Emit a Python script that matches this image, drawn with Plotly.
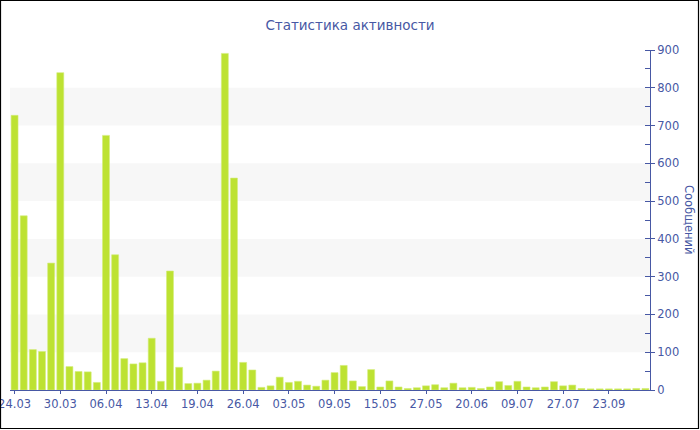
import plotly.graph_objects as go

# Data
messages = [727, 461, 107, 102, 336, 840, 62, 49, 48, 20,
            674, 358, 83, 69, 72, 137, 23, 315, 60, 17,
            18, 26, 50, 891, 561, 73, 53, 7, 11, 34,
            20, 23, 13, 10, 26, 46, 65, 24, 9, 54,
            8, 24, 8, 4, 6, 11, 14, 6, 18, 6,
            7, 4, 8, 22, 12, 23, 8, 6, 8, 22,
            11, 13, 4, 3, 3, 3, 3, 3, 4, 4]
tick_labels = ["24.03", "30.03", "06.04", "13.04", "19.04", "26.04", "03.05",
               "09.05", "15.05", "27.05", "20.06", "09.07", "27.07", "23.09"]
tick_step = 5
y_max = 900
y_step = 100

idx = list(range(len(messages)))
tick_vals = [i * tick_step for i in range(len(tick_labels))]

blue = "#4758a4"
font_family = "DejaVu Sans, Verdana, sans-serif"

fig = go.Figure()
fig.add_trace(go.Bar(
    x=idx, y=messages,
    marker=dict(color="#bde232", line=dict(color="#d3ec7a", width=0.6)),
    hoverinfo="y",
))

W, H = 700, 430
ml, mr, mt, mb = 10, 50, 50, 40
pw, ph = W - ml - mr, H - mt - mb

# alternating gray bands
shapes = []
for lo in range(y_step, y_max, 2 * y_step):
    shapes.append(dict(type="rect", xref="paper", yref="y", x0=0, x1=1,
                       y0=lo, y1=lo + y_step, fillcolor="#f7f7f7",
                       line=dict(width=0), layer="below"))
# outer border
shapes.append(dict(type="rect", xref="paper", yref="paper",
                   x0=(0.5 - ml) / pw, x1=(698.5 - ml) / pw,
                   y0=(H - 428.5 - mb) / ph, y1=(H - 0.5 - mb) / ph,
                   line=dict(color="black", width=1.2), fillcolor="rgba(0,0,0,0)",
                   layer="above"))

fig.update_layout(
    width=W, height=H,
    margin=dict(l=ml, r=mr, t=mt, b=mb, autoexpand=False),
    paper_bgcolor="white", plot_bgcolor="white",
    font=dict(family=font_family, color=blue, size=12),
    title=dict(text="Статистика активности", x=0.5, xref="container", xanchor="center",
               y=1 - 25 / H, yref="container", yanchor="middle",
               font=dict(size=13.5, color=blue, family=font_family)),
    bargap=0.24,
    showlegend=False,
    shapes=shapes,
    annotations=[dict(text="Сообщений", xref="paper", yref="paper",
                      x=(698 - ml) / pw, y=0.5, textangle=90, showarrow=False,
                      font=dict(size=11.5, color=blue, family=font_family),
                      xanchor="right", yanchor="middle")],
)
fig.update_xaxes(
    range=[-0.5, len(messages) - 0.5], automargin=False,
    tickmode="array", tickvals=tick_vals, ticktext=tick_labels,
    ticklabeloverflow="allow",
    showgrid=False, zeroline=False,
    showline=True, linecolor=blue, linewidth=1,
    ticks="outside", ticklen=3, tickcolor=blue,
    tickfont=dict(size=11.5, color=blue),
)
fig.update_yaxes(
    side="right", range=[0, y_max], dtick=y_step, automargin=False,
    showgrid=False, zeroline=False,
    showline=True, linecolor=blue, linewidth=1,
    ticks="outside", ticklen=4, tickcolor=blue,
    tickfont=dict(size=11.5, color=blue),
    minor=dict(dtick=y_step / 2, ticks="inside", ticklen=5, tickcolor=blue, showgrid=False),
)

fig.write_html("out.html", config={"displayModeBar": False},
               post_script="document.body.style.margin='0';")
